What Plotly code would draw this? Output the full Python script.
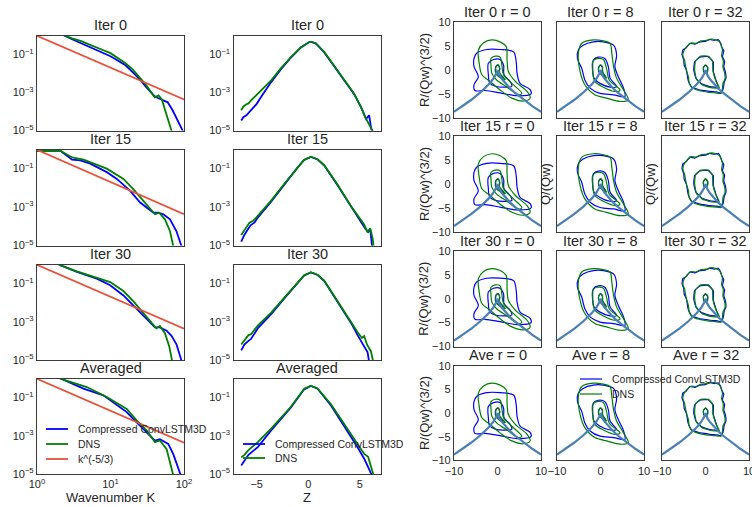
import plotly.graph_objects as go

W, H = 752, 507
BLUE = "#0000ff"
GREEN = "#008000"
RED = "#e8503a"
VLINE = "#4a7fb4"
FONT = "Liberation Sans, Arial, sans-serif"
TXT = "#262626"
SPINE = "#3a3a3a"

# ---------------- data ----------------
row_titles = ["Iter 0", "Iter 15", "Iter 30", "Averaged"]
qr_row_names = ["Iter 0", "Iter 15", "Iter 30", "Ave"]
r_values = [0, 8, 32]
spec_ticks = [1, 10, 100]
spec_ticktext = ["10<sup>0</sup>", "10<sup>1</sup>", "10<sup>2</sup>"]
logy_ticks = [1e-5, 1e-3, 1e-1]
logy_ticktext = ["10<sup>−5</sup>", "10<sup>−3</sup>", "10<sup>−1</sup>"]

# energy spectra (log10 values)
k_comp_0 = [1, 2, 3, 4, 5, 6, 8, 10, 13, 16, 20, 25, 30, 35, 40, 45, 50, 55, 60, 70, 80, 90, 100]
logE_comp_0 = [0.3, 0.11, -0.21, -0.42, -0.6, -0.73, -0.95, -1.1, -1.37, -1.58, -1.94, -2.31, -2.68, -2.94, -3.21, -3.31, -3.39, -3.47, -3.52, -3.94, -4.37, -4.79, -5.15]
k_dns_0 = [1, 2, 3, 4, 5, 6, 8, 10, 13, 16, 20, 25, 30, 35, 40, 45, 50, 55, 60, 70]
logE_dns_0 = [0.3, 0.1, -0.16, -0.31, -0.47, -0.58, -0.79, -0.94, -1.21, -1.47, -1.79, -2.21, -2.58, -2.94, -3.26, -3.16, -3.37, -3.9, -4.4, -5.2]

k_comp_15 = [1, 2.1, 3, 3.9, 5.3, 8.9, 12.2, 18.4, 25.3, 38.2, 44.6, 52.3, 64.5, 79, 92.7, 100]
logE_comp_15 = [-0.09, -0.09, -0.54, -0.58, -0.75, -1.19, -1.54, -2.15, -2.77, -3.29, -3.29, -3.38, -3.64, -4.26, -5.05, -5.4]
k_dns_15 = [1, 2.1, 3, 4.3, 8.9, 15, 20.4, 31, 40.3, 46, 55, 64.5, 70, 75]
logE_dns_15 = [-0.09, -0.09, -0.43, -0.54, -1.01, -1.54, -2.07, -2.85, -3.38, -3.3, -3.64, -4.26, -5.05, -5.4]

k_comp_30 = [1.8, 2.07, 3.49, 6.5, 9.9, 15, 20.4, 28, 40.3, 47, 58, 67.6, 79, 92.7, 100]
logE_comp_30 = [0.1, -0.05, -0.4, -0.75, -1.1, -1.63, -2.15, -2.68, -3.3, -3.3, -3.47, -3.74, -4.18, -5.05, -5.4]
k_dns_30 = [1.8, 2.07, 3.49, 6.5, 9.9, 15, 20.4, 28, 38.2, 42, 47, 55, 63, 68, 72]
logE_dns_30 = [0.1, -0.05, -0.37, -0.7, -0.93, -1.4, -1.93, -2.55, -3.17, -3.35, -3.22, -3.6, -4.3, -5.05, -5.4]

k_comp_ave = [1.8, 2.18, 4.29, 8, 9.9, 16.6, 22.7, 31, 40.3, 47, 61, 71.5, 88, 95]
logE_comp_ave = [0.1, -0.05, -0.54, -0.89, -1.16, -1.77, -2.3, -2.82, -3.26, -3.18, -3.43, -3.96, -4.92, -5.3]
k_dns_ave = [1.8, 2.18, 4.76, 8.9, 16.6, 22.7, 31, 40.3, 47, 58, 70, 74]
logE_dns_ave = [0.1, -0.05, -0.46, -0.98, -1.6, -2.2, -2.72, -3.34, -3.25, -3.7, -4.93, -5.3]

k_ref = [1, 100]
logE_ref = [-0.03, -3.37]

# PDFs of Z (log10 values)
z_comp_0 = [-6.5, -6.3, -6.0, -5.55, -5.0, -4.58, -3.6, -2.64, -1.68, -0.71, 0.1, 0.3, 0.75, 1.55, 2.5, 3.5, 4.45, 5.1, 5.3, 5.6, 5.9, 6.1, 6.3]
logP_comp_0 = [-4.47, -4.3, -4.2, -3.94, -3.6, -3.24, -2.46, -1.78, -1.17, -0.64, -0.36, -0.35, -0.44, -0.9, -1.6, -2.4, -3.1, -3.75, -4.0, -4.4, -4.2, -4.9, -5.1]
z_dns_0 = [-6.5, -6.3, -6.0, -5.8, -5.55, -4.58, -3.6, -2.64, -1.68, -0.71, 0.1, 0.3, 0.75, 1.55, 2.5, 3.5, 4.45, 5.1, 5.6, 6.1, 6.3]
logP_dns_0 = [-3.94, -3.75, -3.62, -3.58, -3.42, -2.89, -2.37, -1.73, -1.15, -0.63, -0.36, -0.35, -0.43, -0.88, -1.58, -2.37, -3.07, -3.77, -4.38, -4.89, -5.1]

z_comp_15 = [-6.5, -6.2, -5.9, -5.6, -5.2, -4.9, -3.6, -2.32, -1.03, -0.4, 0.26, 0.9, 1.55, 2.85, 4.13, 4.7, 5.1, 5.5, 5.8, 6.0, 6.2]
logP_comp_15 = [-4.8, -4.45, -4.2, -3.95, -3.8, -3.55, -2.72, -1.82, -0.94, -0.56, -0.4, -0.53, -0.85, -1.88, -2.98, -3.4, -3.75, -4.1, -4.3, -4.15, -5.1]
z_dns_15 = [-6.5, -6.2, -5.9, -5.7, -5.3, -4.9, -3.6, -2.32, -1.03, -0.4, 0.26, 0.9, 1.55, 2.85, 4.13, 4.6, 5.1, 5.4, 5.75, 6.0, 6.23, 6.35]
logP_dns_15 = [-4.46, -4.2, -4.0, -3.81, -3.7, -3.46, -2.67, -1.79, -0.92, -0.55, -0.39, -0.52, -0.83, -1.85, -2.95, -3.3, -3.7, -3.9, -4.3, -4.1, -4.6, -5.1]

z_comp_30 = [-6.5, -6.2, -5.8, -5.55, -4.9, -3.6, -2.32, -1.03, -0.4, 0.26, 0.9, 1.55, 2.85, 4.13, 4.78, 5.42, 5.75, 5.9]
logP_comp_30 = [-4.5, -4.2, -4.0, -3.9, -3.35, -2.6, -1.78, -0.97, -0.59, -0.43, -0.56, -0.88, -1.95, -3.05, -3.7, -4.3, -4.6, -5.1]
z_dns_30 = [-6.5, -6.2, -5.8, -5.55, -4.9, -3.6, -2.32, -1.03, -0.4, 0.26, 0.9, 1.55, 2.85, 4.13, 4.78, 5.2, 5.42, 5.7, 6.07, 6.3]
logP_dns_30 = [-4.19, -4.0, -3.7, -3.66, -3.2, -2.53, -1.74, -0.95, -0.58, -0.42, -0.55, -0.86, -1.91, -3.0, -3.55, -3.85, -3.75, -4.2, -4.54, -5.1]

z_comp_ave = [-6.5, -6.2, -5.8, -4.9, -3.6, -1.68, -0.4, 0.26, 0.9, 2.2, 3.5, 4.13, 4.78, 5.42, 6.0, 6.2]
logP_comp_ave = [-4.56, -4.3, -4.0, -3.6, -2.72, -1.52, -0.58, -0.4, -0.55, -1.42, -2.5, -3.0, -3.6, -4.2, -4.8, -5.1]
z_dns_ave = [-6.5, -6.2, -5.8, -4.9, -3.6, -1.68, -0.4, 0.26, 0.9, 2.2, 3.5, 4.13, 4.78, 5.42, 5.8, 6.0, 6.35]
logP_dns_ave = [-4.13, -4.0, -3.75, -3.34, -2.63, -1.49, -0.55, -0.39, -0.53, -1.36, -2.4, -2.9, -3.45, -3.95, -4.1, -4.5, -5.1]

# Q-R joint PDF contours (R, Q pairs)
r0_blue_outer = [(-4.8, 3.5), (-2.5, 4.3), (0.6, 4.3), (3.7, 3.8), (4.3, 1.7), (4.5, -0.7), (5.2, -2.8), (7.5, -4.1), (7.7, -5.0), (4.5, -5.4), (0.6, -4.8), (-2.8, -4.3), (-5.2, -4.3), (-5.4, -3.1), (-4.4, -1.4), (-5.4, 0.7), (-5.4, 2.4)]
r0_green_outer = [(-4.4, 4.2), (-3.2, 5.7), (-1.3, 6.3), (0.6, 5.9), (2.0, 4.9), (2.2, 2.1), (2.5, -0.3), (4.1, -2.4), (6.8, -4.5), (7.5, -5.9), (6.0, -6.5), (3.3, -5.9), (0.6, -4.2), (-1.7, -2.4), (-3.6, -1.0), (-4.2, 1.4)]
r0_blue_mid = [(-2.1, 1.4), (-0.9, 2.2), (0.6, 2.2), (1.4, 1.0), (1.5, -1.0), (2.9, -2.4), (3.3, -3.4), (1.4, -3.6), (-0.5, -3.4), (-1.8, -2.7), (-2.1, -1.0)]
r0_green_mid = [(-1.5, 2.4), (-0.5, 2.9), (0.6, 2.7), (1.0, 1.0), (1.4, -1.0), (3.3, -2.8), (5.6, -4.9), (4.8, -5.2), (2.2, -3.6), (-0.2, -2.1), (-1.3, -0.7), (-1.5, 1.0)]
r0_blue_in = [(-0.5, 0.3), (-0.3, 0.8), (0.15, 1.0), (0.5, 0.3), (0.4, -0.7), (1.4, -1.7), (0.6, -1.5), (-0.3, -0.8)]
r0_green_in = [(-0.4, 0.4), (-0.2, 0.9), (0.2, 1.1), (0.5, 0.4), (0.5, -0.6), (1.8, -2.0), (0.8, -1.7), (-0.2, -0.9)]

r8_blue_outer = [(-5.1, 4.2), (-4.0, 5.2), (-1.65, 5.9), (0.65, 5.9), (3.0, 5.2), (3.7, 3.1), (3.3, 0.7), (4.1, -1.4), (5.3, -3.8), (5.6, -5.6), (3.0, -5.2), (-0.1, -4.9), (-2.4, -3.8), (-3.6, -2.1), (-4.3, 0.3), (-5.3, 2.4)]
r8_green_outer = [(-5.1, 3.5), (-4.3, 5.6), (-1.65, 6.3), (0.65, 6.1), (2.2, 5.6), (2.6, 3.5), (3.0, 0.7), (3.7, -1.7), (5.3, -4.2), (6.4, -6.3), (4.5, -6.6), (1.4, -5.9), (-1.3, -5.2), (-3.6, -3.1), (-4.7, -0.3)]
r8_blue_mid = [(-1.65, 2.1), (-0.5, 2.7), (1.0, 2.4), (1.8, 0.7), (2.2, -1.7), (3.7, -3.5), (2.2, -3.6), (-0.1, -2.8), (-1.5, -1.7), (-1.8, 0.7)]
r8_green_mid = [(-1.8, 1.7), (-0.9, 2.4), (0.65, 2.2), (1.4, 0.3), (2.0, -2.1), (4.5, -4.2), (3.3, -4.5), (0.65, -3.6), (-1.3, -2.4), (-1.8, -0.3)]
r8_blue_in = [(-0.4, 0.6), (0.0, 1.0), (0.4, 0.6), (0.5, -0.5), (1.2, -1.5), (0.3, -1.0), (-0.4, -0.3)]
r8_green_in = [(-0.35, 0.7), (0.0, 1.1), (0.45, 0.7), (0.5, -0.4), (1.4, -1.7), (0.3, -1.1), (-0.4, -0.2)]

r32_blue_outer = [(-5.2, 4.2), (-4.5, 4.6), (-3.6, 5.6), (-2.5, 5.4), (-1.3, 5.9), (0.0, 6.0), (1.0, 6.4), (2.0, 6.2), (2.9, 6.4), (3.5, 5.6), (3.7, 4.9), (4.2, 4.0), (3.9, 2.8), (4.4, 1.8), (4.2, 0.7), (4.6, -0.5), (4.7, -1.7), (4.3, -2.6), (4.1, -3.8), (3.7, -4.8), (2.5, -4.6), (1.0, -4.5), (-0.3, -4.3), (-1.3, -4.2), (-2.2, -3.9), (-3.2, -3.6), (-3.7, -2.8), (-4.0, -2.1), (-4.2, -1.0), (-4.4, 0.0), (-4.9, 1.0), (-5.0, 2.1), (-5.4, 3.2)]
r32_green_outer = [(-5.0, 4.0), (-4.2, 5.0), (-3.3, 5.7), (-2.2, 5.6), (-1.0, 6.1), (0.2, 6.2), (1.3, 6.5), (2.4, 6.3), (3.1, 6.0), (3.6, 5.2), (3.9, 4.2), (3.7, 3.0), (4.1, 1.9), (4.0, 0.6), (4.4, -0.6), (4.5, -1.8), (4.0, -2.8), (3.9, -3.9), (3.5, -4.9), (2.3, -4.8), (0.9, -4.7), (-0.4, -4.5), (-1.5, -4.3), (-2.5, -4.0), (-3.3, -3.5), (-3.8, -2.6), (-3.9, -1.5), (-4.3, -0.3), (-4.6, 0.9), (-4.8, 2.0), (-5.2, 3.0)]
r32_blue_mid = [(-2.5, 1.7), (-1.3, 2.7), (0.6, 2.8), (1.8, 1.7), (1.8, -0.3), (2.5, -2.4), (2.9, -3.6), (1.0, -3.5), (-0.9, -2.9), (-2.2, -1.7), (-2.7, 0.0)]
r32_green_mid = [(-2.3, 1.9), (-1.1, 2.9), (0.7, 2.9), (1.6, 1.8), (1.7, -0.2), (2.4, -2.3), (3.2, -3.8), (1.2, -3.7), (-0.8, -3.1), (-2.1, -1.9), (-2.5, 0.1)]
r32_blue_in = [(-0.5, 0.5), (0.0, 1.0), (0.5, 0.5), (0.4, -0.4), (0.0, -0.6), (-0.4, -0.4)]
r32_green_in = [(-0.45, 0.6), (0.0, 1.1), (0.5, 0.6), (0.5, -0.3), (0.0, -0.5), (-0.4, -0.3)]

# Vieillefosse tail line
vf_R = [-10, -8, -6, -4, -3, -2, -1, -0.5, -0.2, 0, 0.2, 0.5, 1, 2, 3, 4, 6, 8, 10]
vf_Q = [-8.77, -7.56, -6.24, -4.76, -3.93, -3.0, -1.89, -1.19, -0.65, 0, -0.65, -1.19, -1.89, -3.0, -3.93, -4.76, -6.24, -7.56, -8.77]

spec_data = [
    (k_comp_0, logE_comp_0, k_dns_0, logE_dns_0),
    (k_comp_15, logE_comp_15, k_dns_15, logE_dns_15),
    (k_comp_30, logE_comp_30, k_dns_30, logE_dns_30),
    (k_comp_ave, logE_comp_ave, k_dns_ave, logE_dns_ave),
]
pdf_data = [
    (z_comp_0, logP_comp_0, z_dns_0, logP_dns_0),
    (z_comp_15, logP_comp_15, z_dns_15, logP_dns_15),
    (z_comp_30, logP_comp_30, z_dns_30, logP_dns_30),
    (z_comp_ave, logP_comp_ave, z_dns_ave, logP_dns_ave),
]
qr_data = [
    (r0_blue_outer, r0_blue_mid, r0_blue_in, r0_green_outer, r0_green_mid, r0_green_in),
    (r8_blue_outer, r8_blue_mid, r8_blue_in, r8_green_outer, r8_green_mid, r8_green_in),
    (r32_blue_outer, r32_blue_mid, r32_blue_in, r32_green_outer, r32_green_mid, r32_green_in),
]

# ---------------- layout geometry (pixels) ----------------
left_cols = [(37, 184), (233.5, 381)]
left_rows = [(36, 130.5), (150, 245.5), (265, 360), (379, 474)]
qr_cols = [(454, 541), (557, 644), (662, 749)]
qr_rows = [(22.3, 117.7), (136, 232), (251, 346.5), (365.7, 460.3)]

fig = go.Figure()
layout = {}
annotations = []
shapes = []
tickfont = dict(family=FONT, size=11, color=TXT)


def axname(i):
    return "" if i == 1 else str(i)


def add_axes(i, xb, yb, xcfg, ycfg):
    n = axname(i)
    base = dict(showline=True, mirror=True, linecolor=SPINE, linewidth=1.3, automargin=False,
                showgrid=False, zeroline=False, ticks="", tickfont=tickfont,
                ticklabeloverflow="allow")
    xa = dict(base, domain=[xb[0] / W, xb[1] / W], anchor="y" + n, **xcfg)
    ya = dict(base, domain=[1 - yb[1] / H, 1 - yb[0] / H], anchor="x" + n, **ycfg)
    layout["xaxis" + n] = xa
    layout["yaxis" + n] = ya
    return "x" + n, "y" + n


def closed(pts):
    xs = [p[0] for p in pts] + [pts[0][0]]
    ys = [p[1] for p in pts] + [pts[0][1]]
    return xs, ys


idx = 0
for r in range(4):
    # spectrum panel
    idx += 1
    last = r == 3
    xa, ya = add_axes(idx, left_cols[0], left_rows[r],
                      dict(type="log", range=[0, 2], tickvals=spec_ticks, ticktext=spec_ticktext,
                           showticklabels=last),
                      dict(type="log", range=[-5, -0.04], tickvals=logy_ticks, ticktext=logy_ticktext))
    kc, ec, kd, ed = spec_data[r]
    fig.add_trace(go.Scatter(x=kc, y=[10 ** v for v in ec], mode="lines", line=dict(color=BLUE, width=1.8),
                             xaxis=xa, yaxis=ya, showlegend=False))
    fig.add_trace(go.Scatter(x=kd, y=[10 ** v for v in ed], mode="lines", line=dict(color=GREEN, width=1.8),
                             xaxis=xa, yaxis=ya, showlegend=False))
    fig.add_trace(go.Scatter(x=k_ref, y=[10 ** v for v in logE_ref], mode="lines", line=dict(color=RED, width=1.8),
                             xaxis=xa, yaxis=ya, showlegend=False))
    annotations.append(dict(text=row_titles[r], x=sum(left_cols[0]) / 2 / W, y=1 - (left_rows[r][0] - 11) / H,
                            xref="paper", yref="paper", showarrow=False, xanchor="center", yanchor="middle",
                            font=dict(family=FONT, size=14.5, color=TXT)))
    # pdf panel
    idx += 1
    xa, ya = add_axes(idx, left_cols[1], left_rows[r],
                      dict(range=[-7.25, 7.05], tickvals=[-5, 0, 5], showticklabels=last),
                      dict(type="log", range=[-5, -0.04], tickvals=logy_ticks, ticktext=logy_ticktext))
    zc, pc, zd, pd_ = pdf_data[r]
    fig.add_trace(go.Scatter(x=zc, y=[10 ** v for v in pc], mode="lines", line=dict(color=BLUE, width=1.8),
                             xaxis=xa, yaxis=ya, showlegend=False))
    fig.add_trace(go.Scatter(x=zd, y=[10 ** v for v in pd_], mode="lines", line=dict(color=GREEN, width=1.8),
                             xaxis=xa, yaxis=ya, showlegend=False))
    annotations.append(dict(text=row_titles[r], x=sum(left_cols[1]) / 2 / W, y=1 - (left_rows[r][0] - 11) / H,
                            xref="paper", yref="paper", showarrow=False, xanchor="center", yanchor="middle",
                            font=dict(family=FONT, size=14.5, color=TXT)))
    # Q-R panels
    for c in range(3):
        idx += 1
        xa, ya = add_axes(idx, qr_cols[c], qr_rows[r],
                          dict(range=[-10, 10], tickvals=[-10, 0, 10], showticklabels=last),
                          dict(range=[-10, 10], tickvals=[-10, -5, 0, 5, 10], showticklabels=(c == 0)))
        bo, bm, bi, go_, gm, gi = qr_data[c]
        sm = 0.9 if c < 2 else 0.4
        for pts, col in [(bo, BLUE), (bm, BLUE), (bi, BLUE), (go_, GREEN), (gm, GREEN), (gi, GREEN)]:
            xs, ys = closed(pts)
            fig.add_trace(go.Scatter(x=xs, y=ys, mode="lines",
                                     line=dict(color=col, width=1.2, shape="spline", smoothing=sm),
                                     xaxis=xa, yaxis=ya, showlegend=False))
        fig.add_trace(go.Scatter(x=vf_R, y=vf_Q, mode="lines", line=dict(color=VLINE, width=2.2),
                                 xaxis=xa, yaxis=ya, showlegend=False))
        annotations.append(dict(text=f"{qr_row_names[r]} r = {r_values[c]}",
                                x=sum(qr_cols[c]) / 2 / W, y=1 - (qr_rows[r][0] - 10.5) / H,
                                xref="paper", yref="paper", showarrow=False, xanchor="center", yanchor="middle",
                                font=dict(family=FONT, size=14.5, color=TXT)))
        if c == 0:
            annotations.append(dict(text="R/(Qw)^(3/2)", x=424 / W, y=1 - sum(qr_rows[r]) / 2 / H,
                                    xref="paper", yref="paper", showarrow=False, textangle=-90,
                                    xanchor="center", yanchor="middle",
                                    font=dict(family=FONT, size=13, color=TXT)))
        if r == 1 and c > 0:
            annotations.append(dict(text="Q/(Qw)", x=(qr_cols[c][0] - 12) / W, y=1 - sum(qr_rows[r]) / 2 / H,
                                    xref="paper", yref="paper", showarrow=False, textangle=-90,
                                    xanchor="center", yanchor="middle",
                                    font=dict(family=FONT, size=13, color=TXT)))

# axis labels
annotations.append(dict(text="Wavenumber K", x=sum(left_cols[0]) / 2 / W, y=1 - 497 / H, xref="paper", yref="paper",
                        showarrow=False, xanchor="center", yanchor="middle", font=dict(family=FONT, size=13, color=TXT)))
annotations.append(dict(text="Z", x=sum(left_cols[1]) / 2 / W, y=1 - 497 / H, xref="paper", yref="paper",
                        showarrow=False, xanchor="center", yanchor="middle", font=dict(family=FONT, size=13, color=TXT)))

# legends (manual, matplotlib-style without frame)
def legend_item(x0, y, color, label, width):
    shapes.append(dict(type="line", xref="paper", yref="paper", x0=x0 / W, x1=(x0 + 22) / W,
                       y0=1 - y / H, y1=1 - y / H, line=dict(color=color, width=width)))
    annotations.append(dict(text=label, x=(x0 + 30) / W, y=1 - y / H, xref="paper", yref="paper",
                            showarrow=False, xanchor="left", yanchor="middle",
                            font=dict(family=FONT, size=10.5, color=TXT)))

legend_item(46, 429, BLUE, "Compressed ConvLSTM3D", 1.8)
legend_item(46, 444, GREEN, "DNS", 1.8)
legend_item(46, 459, RED, "k^(-5/3)", 1.8)
legend_item(243, 444, BLUE, "Compressed ConvLSTM3D", 1.8)
legend_item(243, 458, GREEN, "DNS", 1.8)
legend_item(580, 379, BLUE, "Compressed ConvLSTM3D", 1.2)
legend_item(580, 394, GREEN, "DNS", 1.2)

fig.update_layout(**layout)
fig.update_layout(width=W, height=H, margin=dict(l=0, r=0, t=0, b=0, pad=0, autoexpand=False),
                  paper_bgcolor="white", plot_bgcolor="white",
                  annotations=annotations, shapes=shapes, showlegend=False,
                  font=dict(family=FONT, color=TXT))
fig.write_html("out.html", config={"displayModeBar": False},
               post_script="document.body.style.margin='0';document.body.style.padding='0';"
                           "document.body.style.overflow='hidden';")
